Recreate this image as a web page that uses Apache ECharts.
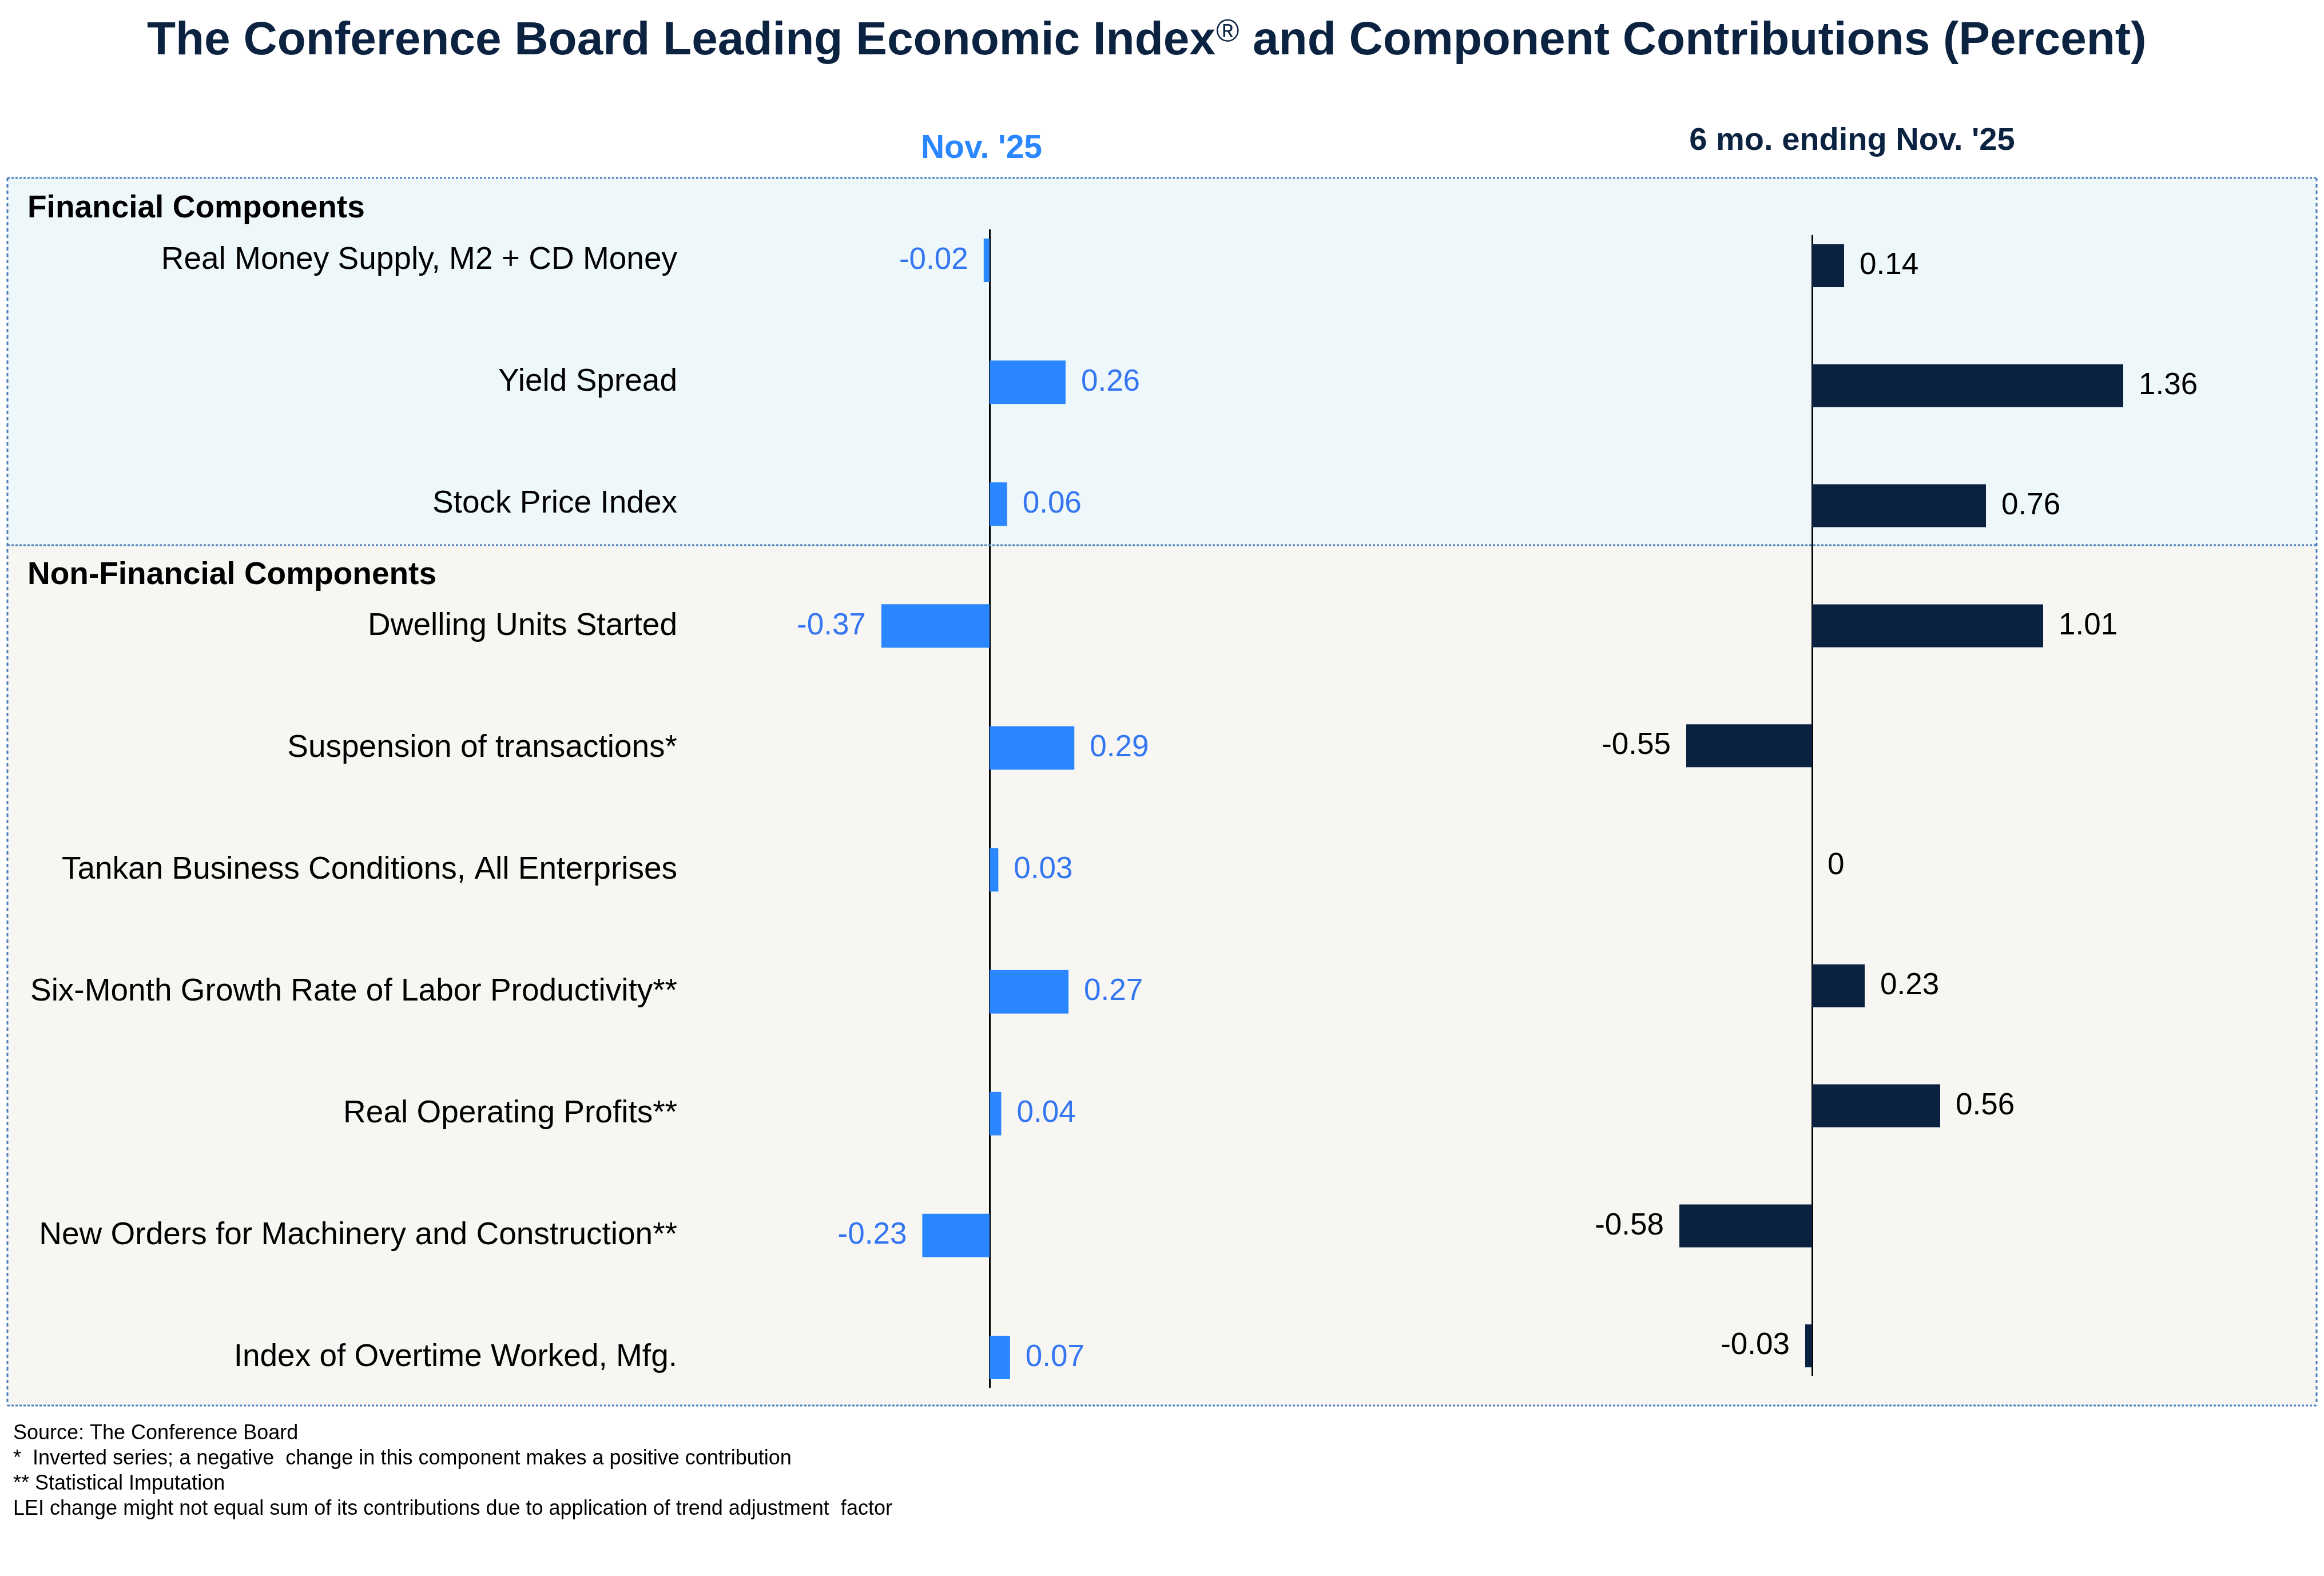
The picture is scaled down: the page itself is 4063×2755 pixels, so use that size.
<!DOCTYPE html>
<html>
<head>
<meta charset="utf-8">
<script src="https://cdn.jsdelivr.net/npm/echarts@6/dist/echarts.min.js"></script>
<style>
html,body{margin:0;padding:0;background:#fff;}
#main{width:4063px;height:2755px;}
</style>
</head>
<body>
<div id="main"></div>
<script>
const categories = [
  'Real Money Supply, M2 + CD Money',
  'Yield Spread',
  'Stock Price Index',
  'Dwelling Units Started',
  'Suspension of transactions*',
  'Tankan Business Conditions, All Enterprises',
  'Six-Month Growth Rate of Labor Productivity**',
  'Real Operating Profits**',
  'New Orders for Machinery and Construction**',
  'Index of Overtime Worked, Mfg.'
];
const nov25 = [-0.02, 0.26, 0.06, -0.37, 0.29, 0.03, 0.27, 0.04, -0.23, 0.07];
const sixMonth = [0.14, 1.36, 0.76, 1.01, -0.55, 0, 0.23, 0.56, -0.58, -0.03];
const sectionHeaders = ['Financial Components', 'Non-Financial Components'];
const columnHeaders = ["Nov. '25", "6 mo. ending Nov. '25"];
const titleParts = ['The Conference Board Leading Economic Index', '\u00ae', 'and Component Contributions (Percent)'];
const footnotes = [
  'Source: The Conference Board',
  '*  Inverted series; a negative  change in this component makes a positive contribution',
  '** Statistical Imputation',
  'LEI change might not equal sum of its contributions due to application of trend adjustment  factor'
];

const FONT = '"Liberation Sans", Arial, Helvetica, sans-serif';
const NAVY = '#0a2240';
const TITLE_C = '#0b2341';
const BLUE = '#2b87ff';
const BLUE_TXT = '#3476f2';

function toData(arr) {
  return arr.map(v => ({ value: v, label: { position: v < 0 ? 'left' : 'right' } }));
}

const chart = echarts.init(document.getElementById('main'), null, { renderer: 'canvas' });

const option = {
  backgroundColor: '#ffffff',
  animation: false,
  textStyle: { fontFamily: FONT },
  grid: [
    { left: 1321, width: 818, top: 348.5, height: 2131 },
    { left: 2768, width: 1200, top: 359.6, height: 2098 },
    { left: 1321, width: 818, top: 402, height: 2023 },
    { left: 2768, width: 1200, top: 412, height: 1992 }
  ],
  xAxis: [
    { gridIndex: 0, type: 'value', min: -0.8, max: 0.8, show: false },
    { gridIndex: 1, type: 'value', min: -1, max: 2, show: false },
    { gridIndex: 2, type: 'value', min: -0.8, max: 0.8, show: false },
    { gridIndex: 3, type: 'value', min: -1, max: 2, show: false }
  ],
  yAxis: [
    {
      gridIndex: 0, type: 'category', data: categories, inverse: true,
      position: 'left',
      axisLine: { show: false, onZero: false }, axisTick: { show: false }, splitLine: { show: false },
      axisLabel: { margin: 137, fontSize: 55, color: '#000000', fontFamily: FONT }
    },
    {
      gridIndex: 1, type: 'category', data: categories, inverse: true,
      axisLine: { show: false }, axisTick: { show: false }, axisLabel: { show: false }, splitLine: { show: false }
    },
    {
      gridIndex: 2, type: 'value', min: 0, max: 1,
      axisLine: { show: true, onZero: true, lineStyle: { color: '#000000', width: 3 } },
      axisTick: { show: false }, axisLabel: { show: false }, splitLine: { show: false }
    },
    {
      gridIndex: 3, type: 'value', min: 0, max: 1,
      axisLine: { show: true, onZero: true, lineStyle: { color: '#000000', width: 3 } },
      axisTick: { show: false }, axisLabel: { show: false }, splitLine: { show: false }
    }
  ],
  series: [
    {
      type: 'bar', xAxisIndex: 0, yAxisIndex: 0, data: toData(nov25),
      barWidth: 76, itemStyle: { color: BLUE },
      label: { show: true, distance: 27, fontSize: 53, color: BLUE_TXT, fontFamily: FONT,
               formatter: p => String(p.value) },
      z: 3
    },
    {
      type: 'bar', xAxisIndex: 1, yAxisIndex: 1, data: toData(sixMonth),
      barWidth: 75, itemStyle: { color: NAVY },
      label: { show: true, distance: 27, fontSize: 53, color: '#000000', fontFamily: FONT,
               formatter: p => String(p.value) },
      z: 3
    }
  ],
  graphic: [
    // panel backgrounds
    { type: 'rect', z: -10, shape: { x: 13, y: 311, width: 4037, height: 642 }, style: { fill: '#eef7f9' } },
    { type: 'rect', z: -10, shape: { x: 13, y: 953, width: 4037, height: 1504 }, style: { fill: '#f7f6f3' } },
    // borders
    { type: 'line', z: 50, shape: { x1: 13, y1: 311, x2: 4050, y2: 311 }, style: { stroke: '#4a7ebb', lineWidth: 3, lineDash: [4, 3] } },
    { type: 'line', z: 50, shape: { x1: 13, y1: 953, x2: 4050, y2: 953 }, style: { stroke: '#4a7ebb', lineWidth: 3, lineDash: [4, 3] } },
    { type: 'line', z: 50, shape: { x1: 13, y1: 2457, x2: 4050, y2: 2457 }, style: { stroke: '#4a7ebb', lineWidth: 3, lineDash: [4, 3] } },
    { type: 'line', z: 50, shape: { x1: 13, y1: 311, x2: 13, y2: 2457 }, style: { stroke: '#4a7ebb', lineWidth: 3, lineDash: [6, 5] } },
    { type: 'line', z: 50, shape: { x1: 4050, y1: 311, x2: 4050, y2: 2457 }, style: { stroke: '#4a7ebb', lineWidth: 3, lineDash: [6, 5] } },
    // title in three pieces so the registered mark sits as a superscript
    { type: 'text', z: 50, x: 2125, y: 72, style: { text: titleParts[0], fill: TITLE_C, font: 'bold 82px ' + FONT, textAlign: 'right', textVerticalAlign: 'middle' } },
    { type: 'text', z: 50, x: 2126, y: 58, style: { text: titleParts[1], fill: TITLE_C, font: '55px ' + FONT, textAlign: 'left', textVerticalAlign: 'middle' } },
    { type: 'text', z: 50, x: 2190, y: 72, style: { text: titleParts[2], fill: TITLE_C, font: 'bold 82px ' + FONT, textAlign: 'left', textVerticalAlign: 'middle' } },
    // column headers
    { type: 'text', z: 50, x: 1716, y: 260, style: { text: columnHeaders[0], fill: BLUE, font: 'bold 57px ' + FONT, textAlign: 'center', textVerticalAlign: 'middle' } },
    { type: 'text', z: 50, x: 3238, y: 247, style: { text: columnHeaders[1], fill: TITLE_C, font: 'bold 56px ' + FONT, textAlign: 'center', textVerticalAlign: 'middle' } },
    // section headers
    { type: 'text', z: 50, x: 48, y: 365, style: { text: sectionHeaders[0], fill: '#000000', font: 'bold 55px ' + FONT, textAlign: 'left', textVerticalAlign: 'middle' } },
    { type: 'text', z: 50, x: 48, y: 1006, style: { text: sectionHeaders[1], fill: '#000000', font: 'bold 55px ' + FONT, textAlign: 'left', textVerticalAlign: 'middle' } },
    // footnotes
    { type: 'text', z: 50, x: 23, y: 2506, style: { text: footnotes[0], fill: '#000000', font: '36px ' + FONT, textAlign: 'left', textVerticalAlign: 'middle' } },
    { type: 'text', z: 50, x: 23, y: 2550, style: { text: footnotes[1], fill: '#000000', font: '36px ' + FONT, textAlign: 'left', textVerticalAlign: 'middle' } },
    { type: 'text', z: 50, x: 23, y: 2594, style: { text: footnotes[2], fill: '#000000', font: '36px ' + FONT, textAlign: 'left', textVerticalAlign: 'middle' } },
    { type: 'text', z: 50, x: 23, y: 2638, style: { text: footnotes[3], fill: '#000000', font: '36px ' + FONT, textAlign: 'left', textVerticalAlign: 'middle' } }
  ]
};

chart.setOption(option);
</script>
</body>
</html>
